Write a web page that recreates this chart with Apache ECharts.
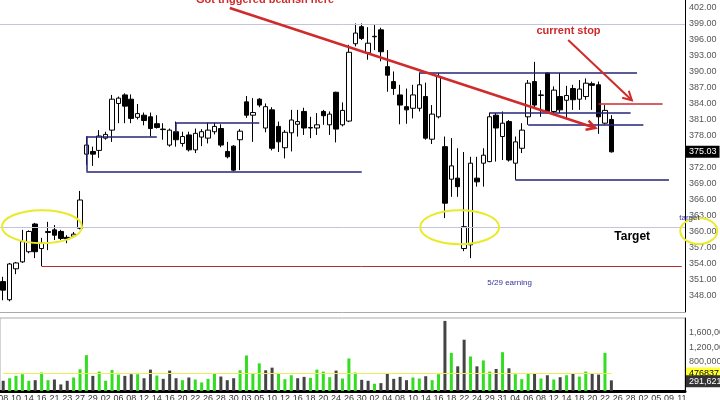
<!DOCTYPE html>
<html><head><meta charset="utf-8">
<script src="https://cdn.jsdelivr.net/npm/echarts/dist/echarts.min.js"></script>
<style>html,body{margin:0;padding:0;background:#fff}#c{width:720px;height:400px}</style>
</head><body><div id="c"></div>
<script>
// ---- data ----
const dayLabels = ['08','10','14','16','21','23','27','29','02','06','08','12','14','16','20','22','26','28','30',
  '03','05','10','12','16','18','20','24','26','30','02','04','08','10','14','16','18','22','24','29','31',
  '04','06','08','12','14','18','20','22','26','28','02','05','09','11'];
const opens = [350.7,347.3,353.1,354.4,356.3,361.5,356.9,359.9,360.4,360.1,359.0,359.2,360.7,374.6,375.1,375.3,377.6,379.1,384.1,385.7,
  384.9,381.5,381.9,381.6,380.3,379.3,376.3,378.8,376.6,378.2,375.4,377.8,377.6,378.8,379.4,375.1,376.1,377.3,384.4,381.9,
  384.9,379.5,382.9,379.8,375.8,378.6,380.2,382.6,379.5,379.5,382.6,380.1,386.2,380.1,380.8,395.3,398.5,393.6,396.6,397.9,
  391.0,388.2,385.7,383.5,383.2,383.2,385.4,377.4,381.6,376.0,369.9,370.1,356.9,357.6,370.1,372.9,373.2,381.9,377.9,380.7,
  372.9,375.7,381.6,388.2,385.6,389.8,382.6,385.4,384.7,386.9,384.9,385.4,387.8,387.6,380.4,381.1];
const closes = [349.1,354.0,354.2,358.2,360.1,356.3,357.9,360.1,359.4,358.8,358.7,359.6,366.0,376.3,374.6,378.0,378.3,384.9,385.1,383.6,
  381.3,382.2,380.9,379.4,379.6,379.2,379.1,377.3,377.9,375.4,378.5,378.8,379.1,379.8,376.3,374.1,371.6,378.9,381.9,382.4,
  383.8,383.5,375.7,376.9,378.7,381.0,380.7,379.5,379.6,380.1,381.8,382.1,379.3,382.8,393.7,397.3,396.3,395.4,396.7,393.8,
  389.4,386.9,383.8,382.9,385.7,387.6,377.6,382.1,389.2,365.4,372.4,368.5,361.0,372.9,369.4,374.4,381.6,379.5,380.4,373.5,
  376.9,379.1,387.9,383.8,385.7,382.6,386.6,382.9,385.6,384.8,386.8,387.9,387.5,381.6,382.8,375.03];
const lows = [347.2,347.0,352.1,354.2,356.0,355.1,353.6,356.6,358.5,358.5,357.9,359.0,360.5,372.6,372.4,373.9,377.3,376.9,380.4,380.4,
  380.4,381.1,380.0,377.9,379.4,377.3,376.0,376.0,376.0,375.1,374.8,376.1,376.6,378.3,375.9,373.8,371.4,371.6,381.4,376.9,
  383.4,378.7,375.3,375.0,373.8,375.1,377.9,378.2,377.6,378.2,380.1,378.2,376.8,379.8,380.6,394.8,396.0,392.3,394.1,392.0,
  386.3,385.7,380.2,380.3,381.3,382.6,377.3,376.5,381.3,362.6,366.6,366.6,356.4,355.1,368.5,368.5,373.1,373.2,373.5,373.2,
  369.8,374.8,380.1,383.4,381.6,382.3,381.9,382.3,381.3,382.9,382.9,384.8,382.9,378.4,380.2,374.9];
const highs = [351.6,354.2,354.4,360.4,360.3,361.7,358.9,361.9,361.3,360.4,359.4,360.0,367.7,377.9,376.0,379.1,378.8,385.7,385.4,386.0,
  385.8,384.0,382.4,382.4,381.9,380.4,379.4,380.7,378.8,378.8,379.4,379.3,380.5,380.5,380.2,376.9,376.3,379.3,385.5,385.1,
  385.1,384.1,383.4,380.7,379.1,382.9,382.9,383.3,381.6,382.3,382.9,382.6,386.3,384.3,395.1,399.1,399.1,398.4,398.8,398.3,
  394.1,390.1,387.6,386.9,387.6,389.9,388.0,383.8,389.8,377.9,377.6,375.7,375.0,374.1,374.1,375.7,382.4,382.3,382.6,381.0,
  377.9,380.4,388.5,391.9,386.6,389.9,387.3,389.8,387.4,387.6,388.5,388.8,388.2,388.2,383.8,381.9];
const volumes = [280000,350000,414000,460000,280000,297000,505000,297000,315000,180000,
  280000,370000,595000,982000,414000,532000,280000,577000,450000,414000,
  460000,460000,350000,586000,423000,333000,559000,350000,297000,370000,
  315000,234000,333000,468000,396000,297000,350000,568000,973000,477000,
  757000,568000,640000,486000,324000,432000,350000,387000,360000,586000,
  532000,378000,559000,342000,892000,505000,306000,280000,198000,216000,
  468000,333000,387000,297000,370000,342000,405000,297000,460000,1920000,
  1045000,676000,1405000,946000,676000,838000,532000,604000,1063000,622000,
  460000,324000,468000,486000,342000,432000,315000,378000,432000,468000,
  396000,532000,477000,450000,1045000,291621];
const avgVolume = 476837;
const topLevel = 399.0;
const targetLevel = 360.9;
const earningsLow = 353.6;
const stopLevel = 384.1;

// drawn support / resistance segments: [[index, price], [index, price]]
const srSegments = [
  [[13,377.9],[13,371.35]], [[13,377.9],[24,377.9]], [[13,371.35],[56,371.35]],
  [[27,380.5],[27,378.6]], [[27,380.5],[40,380.5]],
  [[65,389.8],[99,389.8]], [[76,382.4],[98,382.4]], [[82,380.1],[100,380.1]], [[80,369.8],[104,369.8]]
];
const trendLine = [[35.4,402.0],[92.5,379.5]];
const stopArrow = [[88.25,396.0],[98.2,384.7]];

// ---- chart ----
const FONT = '"Liberation Sans", Arial, sans-serif';
const NSLOT = 107;
const categories = [];
for (let i = 0; i < NSLOT; i++) categories.push(i % 2 === 0 ? dayLabels[i / 2] : '');
const fmtComma = v => String(Math.round(v)).replace(/\B(?=(\d{3})+(?!\d))/g, ',');
const navy = '#25257a', red = '#d02a2a', lav = '#c4c4de';

const chart = echarts.init(document.getElementById('c'), null, {renderer: 'canvas'});
const option = {
  animation: false,
  backgroundColor: '#fff',
  textStyle: {fontFamily: FONT},
  grid: [
    {left: 0, right: 35, top: 0, height: 312, containLabel: false, outerBoundsMode: 'none'},
    {left: 0, right: 35, top: 318, height: 73, containLabel: false, outerBoundsMode: 'none',
     show: true, borderColor: '#aaa', borderWidth: 1}
  ],
  xAxis: [
    {type: 'category', gridIndex: 0, data: categories, axisLine: {lineStyle: {color: '#aaa'}},
     axisTick: {show: false}, axisLabel: {show: false}, splitLine: {show: false}},
    {type: 'category', gridIndex: 1, data: categories, axisLine: {lineStyle: {color: '#000', width: 3}},
     axisTick: {show: false}, splitLine: {show: false},
     axisLabel: {interval: 0, fontSize: 9, color: '#333', margin: 3, hideOverlap: false}}
  ],
  yAxis: [
    {type: 'value', gridIndex: 0, position: 'right', min: 345, max: 403.5, interval: 3,
     axisLine: {show: true, lineStyle: {color: '#000'}}, axisTick: {show: false}, splitLine: {show: false},
     axisLabel: {fontSize: 9, color: '#555', margin: 4, showMinLabel: true, showMaxLabel: true,
       formatter: v => { const r = Math.round(v); if (Math.abs(v - r) > 1e-6 || r % 3 !== 0 || r < 348 || r > 402 || r === 375) return ''; return r.toFixed(2); }}},
    {type: 'value', gridIndex: 1, position: 'right', min: 0, max: 2000000, interval: 400000,
     axisLine: {show: true, lineStyle: {color: '#000'}}, axisTick: {show: false}, splitLine: {show: false},
     axisLabel: {fontSize: 9, color: '#555', margin: 4,
       formatter: v => [800000, 1200000, 1600000].indexOf(v) >= 0 ? fmtComma(v) : ''}}
  ],
  series: [
    {type: 'candlestick', name: 'price', xAxisIndex: 0, yAxisIndex: 0, barWidth: 5,
     data: opens.map((o, i) => [o, closes[i], lows[i], highs[i]]),
     itemStyle: {color: '#fff', color0: '#000', borderColor: '#000', borderColor0: '#000', borderWidth: 1},
     markLine: {
       silent: true, symbol: ['none', 'none'], animation: false,
       label: {show: false},
       data: [
         {yAxis: topLevel, lineStyle: {color: lav, width: 1, type: 'solid'}},
         {yAxis: targetLevel, lineStyle: {color: lav, width: 1, type: 'solid'}},
         [{coord: [6, earningsLow], lineStyle: {color: '#b03030', width: 1, type: 'solid'}}, {coord: [NSLOT - 1, earningsLow]}],
         [{coord: [93, stopLevel], lineStyle: {color: red, width: 1.5, type: 'solid'}}, {coord: [103, stopLevel]}],
         ...srSegments.map(s => [{coord: s[0], lineStyle: {color: navy, width: 1.5, type: 'solid'}}, {coord: s[1]}])
       ]
     }},
    {type: 'bar', name: 'volume', xAxisIndex: 1, yAxisIndex: 1, barWidth: 3, data: volumes,
     itemStyle: {color: p => {
       const i = p.dataIndex;
       const up = i === 0 ? closes[0] >= opens[0] : closes[i] >= closes[i - 1];
       return up ? '#33dd22' : '#444';
     }},
     markLine: {
       silent: true, symbol: ['none', 'none'], animation: false, label: {show: false},
       data: [
         [{coord: [0, avgVolume], lineStyle: {color: '#eeee55', width: 1, type: 'solid'}}, {coord: [volumes.length - 1, avgVolume]}]
       ]
     }}
  ]
};
chart.setOption(option);

// ---- annotations anchored in data space ----
const x0 = chart.convertToPixel({xAxisIndex: 0}, 0);
const x1 = chart.convertToPixel({xAxisIndex: 0}, 1);
const X = i => x0 + i * (x1 - x0);
const Y = v => chart.convertToPixel({yAxisIndex: 0}, v);
const YV = v => chart.convertToPixel({yAxisIndex: 1}, v);
const P = a => [X(a[0]), Y(a[1])];
const axisX = chart.getWidth() - 35;

function arrow(from, to, color, w) {
  const a = P(from), b = P(to);
  const dx = b[0] - a[0], dy = b[1] - a[1], L = Math.hypot(dx, dy);
  const ux = dx / L, uy = dy / L, len = 10, ang = 0.5;
  const rot = (t) => [b[0] - len * (ux * Math.cos(t) - uy * Math.sin(t)), b[1] - len * (uy * Math.cos(t) + ux * Math.sin(t))];
  return [
    {type: 'line', shape: {x1: a[0], y1: a[1], x2: b[0], y2: b[1]}, style: {stroke: color, lineWidth: w}, z: 100},
    {type: 'polyline', shape: {points: [rot(ang), b, rot(-ang)]}, style: {stroke: color, lineWidth: w, fill: 'none'}, z: 100}
  ];
}
function label(txt, at, font, fill, align) {
  const p = P(at);
  return {type: 'text', z: 100, style: {text: txt, x: p[0], y: p[1], font: font, fill: fill,
    align: align || 'center', verticalAlign: 'middle', textAlign: align || 'center', textVerticalAlign: 'middle'}};
}
function tag(txt, y, bg, fg) {
  return {type: 'text', z: 120, style: {text: txt, x: axisX + 1, y: y, font: '9px ' + FONT, fill: fg,
    backgroundColor: bg, padding: [2, 3, 1, 3], align: 'left', verticalAlign: 'middle', textAlign: 'left', textVerticalAlign: 'middle'}};
}
function ellipse(at, rx, ry) {
  const p = P(at);
  return {type: 'ellipse', z: 90, shape: {cx: p[0], cy: p[1], rx: rx, ry: ry},
          style: {fill: 'none', stroke: '#eaea2a', lineWidth: 2}};
}
const lastClose = closes[closes.length - 1];
const lastVol = volumes[volumes.length - 1];
const g = [];
g.push(...arrow(trendLine[0], trendLine[1], red, 2.5));
g.push(...arrow(stopArrow[0], stopArrow[1], red, 2));
g.push(ellipse([6.06, 361.0], 40, 16.5));
g.push(ellipse([71.3, 360.9], 39.5, 17));
g.push(label('Got triggered bearish here', [40.9, 403.5], 'bold 11px ' + FONT, red));
g.push(label('current stop', [88.3, 397.7], 'bold 11px ' + FONT, red));
g.push(label('Target', [98.25, 359.1], 'bold 12px ' + FONT, '#000'));
g.push(label('5/29 earning', [79.1, 350.4], '8px ' + FONT, '#333399'));
g.push(label('target', [105.6, 362.6], '8px ' + FONT, '#333399', 'left'));
g.push(tag(lastClose.toFixed(2), Y(lastClose), '#000', '#fff'));
g.push(tag(String(avgVolume), YV(avgVolume), '#ffff33', '#000'));
g.push(tag(fmtComma(lastVol), YV(lastVol) + 1, '#333', '#fff'));
g.push(ellipse([108.65, 360.2], 18.5, 13));
chart.setOption({graphic: g});
</script></body></html>
